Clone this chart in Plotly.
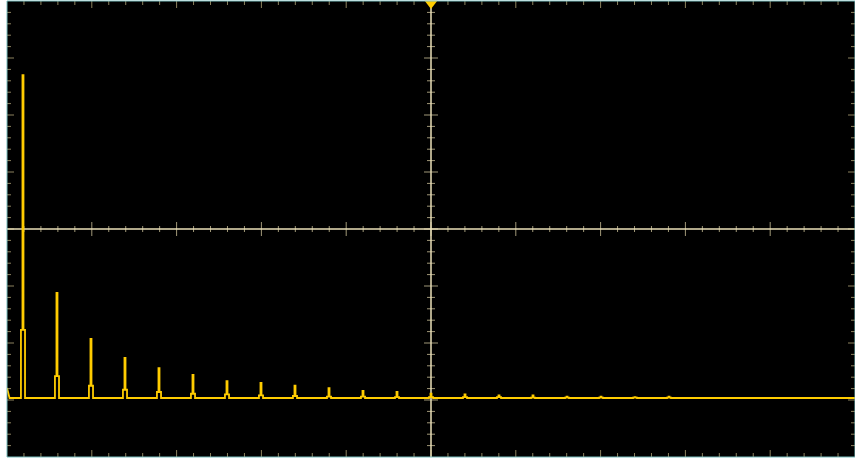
import plotly.graph_objects as go

# ---- data (y in screen divisions, x in harmonic units) ----
harmonics = [1, 3, 5, 7, 9, 11, 13, 15, 17, 19, 21, 23, 25, 27, 29, 31, 33, 35, 37, 39]
spike_levels = [2.70, -1.12, -1.93, -2.26, -2.44, -2.56, -2.67, -2.70, -2.75, -2.79,
                -2.84, -2.86, -2.89, -2.90, -2.92, -2.92, -2.94, -2.94, -2.95, -2.94]
shoulder_levels = [-1.77, -2.58, -2.75, -2.82, -2.86, -2.89, -2.90, -2.92, -2.93, -2.94,
                   -2.94, -2.95, -2.95, -2.95, -2.95, -2.96, -2.96, -2.96, -2.96, -2.96]
baseline_level = -2.965
dc_level = -2.79

X0, X1 = 0.06, 49.94
Y0, Y1 = -4.0, 4.0

# ---- build the stepped spectrum trace ----
xs = [X0, X0 + 0.15]
ys = [dc_level, baseline_level]
for h, sp, sh in zip(harmonics, spike_levels, shoulder_levels):
    xs += [h - 0.12, h - 0.12, h - 0.03, h - 0.03, h + 0.03, h + 0.03, h + 0.12, h + 0.12]
    ys += [baseline_level, sh, sh, sp, sp, sh, sh, baseline_level]
xs.append(X1)
ys.append(baseline_level)

fig = go.Figure()

# ---- graticule tick marks ----
W_PX, H_PX = 848, 456
ux = (X1 - X0) / W_PX   # data units per px (x)
uy = (Y1 - Y0) / H_PX   # data units per px (y)
xc = (X0 + X1) / 2
edge_x, edge_y, ctr_x, ctr_y = [], [], [], []
for k in range(1, 50):
    x = X0 + k * (X1 - X0) / 50
    major = (k % 5 == 0)
    L = (7 if major else 4) * uy
    edge_x += [x, x, None, x, x, None]
    edge_y += [Y1, Y1 - L, None, Y0, Y0 + L, None]
    lc = (7 if major else 3) * uy
    ctr_x += [x, x, None]
    ctr_y += [-lc, lc, None]
for k in range(1, 40):
    y = Y0 + k * (Y1 - Y0) / 40
    major = (k % 5 == 0)
    L = (7 if major else 4) * ux
    edge_x += [X0, X0 + L, None, X1, X1 - L, None]
    edge_y += [y, y, None, y, y, None]
    lc = (7 if major else 4) * ux
    ctr_x += [xc - lc, xc + lc, None]
    ctr_y += [y, y, None]

fig.add_trace(go.Scatter(x=edge_x, y=edge_y, mode="lines",
                         line=dict(color="rgb(140,130,95)", width=1),
                         hoverinfo="skip", showlegend=False))
fig.add_trace(go.Scatter(x=ctr_x, y=ctr_y, mode="lines",
                         line=dict(color="rgba(200,190,150,0.8)", width=1),
                         hoverinfo="skip", showlegend=False))
# center cross lines
fig.add_trace(go.Scatter(x=[X0, X1, None, xc, xc], y=[0, 0, None, Y0, Y1], mode="lines",
                         line=dict(color="rgb(235,225,185)", width=1.5),
                         hoverinfo="skip", showlegend=False))

# spectrum
fig.add_trace(go.Scatter(x=xs, y=ys, mode="lines",
                         line=dict(color="#ffcc00", width=1.8),
                         hoverinfo="skip", showlegend=False))

# trigger marker at top centre
fig.add_trace(go.Scatter(x=[xc], y=[Y1 - 2.6 * uy], mode="markers",
                         marker=dict(symbol="triangle-down", size=11, color="#ffcc00",
                                     line=dict(width=0)),
                         cliponaxis=False, hoverinfo="skip", showlegend=False))

fig.update_layout(
    width=855, height=460,
    margin=dict(l=7, r=0, t=1, b=3),
    paper_bgcolor="white",
    plot_bgcolor="black",
    xaxis=dict(range=[X0, X1], showgrid=False, zeroline=False, showticklabels=False,
               ticks="", fixedrange=True),
    yaxis=dict(range=[Y0, Y1], showgrid=False, zeroline=False, showticklabels=False,
               ticks="", fixedrange=True),
    shapes=[dict(type="rect", xref="paper", yref="paper", x0=0, x1=1, y0=0, y1=1,
                 line=dict(color="rgb(120,190,190)", width=1), layer="above")],
)

fig.write_html("out.html", config={"displayModeBar": False},
               post_script="document.body.style.margin='0';document.body.style.overflow='hidden';")
